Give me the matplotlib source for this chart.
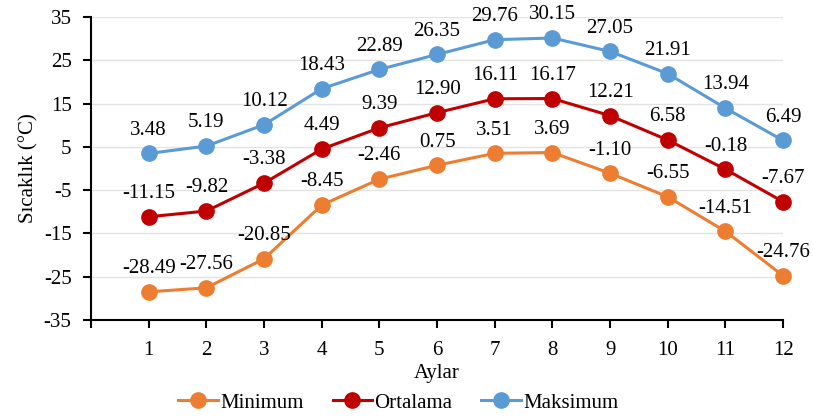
import matplotlib.pyplot as plt

plt.rcParams['font.family'] = ['Liberation Serif', 'DejaVu Serif']
plt.rcParams['axes.unicode_minus'] = False

months = [1, 2, 3, 4, 5, 6, 7, 8, 9, 10, 11, 12]
minimum = [-28.49, -27.56, -20.85, -8.45, -2.46, 0.75, 3.51, 3.69, -1.10, -6.55, -14.51, -24.76]
ortalama = [-11.15, -9.82, -3.38, 4.49, 9.39, 12.90, 16.11, 16.17, 12.21, 6.58, -0.18, -7.67]
maksimum = [3.48, 5.19, 10.12, 18.43, 22.89, 26.35, 29.76, 30.15, 27.05, 21.91, 13.94, 6.49]
yticks = [-35, -25, -15, -5, 5, 15, 25, 35]

series = [
    ('Minimum', minimum, '#ED7D31'),
    ('Ortalama', ortalama, '#C00000'),
    ('Maksimum', maksimum, '#5B9BD5'),
]

fig = plt.figure(figsize=(8.13, 4.18), dpi=100)
ax = fig.add_axes([0.1120, 0.2344, 0.8512, 0.7249])

for name, vals, col in series:
    ax.plot(months, vals, color=col, linewidth=2.2, marker='o', markersize=11,
            label=name, clip_on=False, zorder=3)
    for x, v in zip(months, vals):
        ax.annotate(f'{v:.2f}', (x, v), xytext=(0, 13.5), textcoords='offset points',
                    ha='center', va='baseline', fontsize=15, color='black')

ax.set_xlim(0, 12)
ax.set_ylim(-35, 35)
ax.set_xticks(range(0, 13))
ax.set_xticklabels([''] + [str(m) for m in months])
ax.set_yticks(yticks)
ax.tick_params(axis='both', labelsize=15, direction='out', length=6, width=1.5, colors='black')
ax.tick_params(axis='y', pad=8)
ax.tick_params(axis='x', pad=9)
ax.grid(axis='y', color='#E3E3E3', linewidth=1)
ax.set_axisbelow(True)
for s in ['top', 'right']:
    ax.spines[s].set_visible(False)
for s in ['left', 'bottom']:
    ax.spines[s].set_linewidth(1.5)

ax.set_ylabel('Sıcaklık (°C)', fontsize=15, labelpad=4)
ax.set_xlabel('Aylar', fontsize=15, labelpad=3)

fig.legend(loc='center', bbox_to_anchor=(0.49, 0.036), ncol=3, frameon=False,
           fontsize=15, handlelength=1.9, columnspacing=1.4, handletextpad=0.1,
           borderaxespad=0)

fig.savefig('out.png', dpi=100)
